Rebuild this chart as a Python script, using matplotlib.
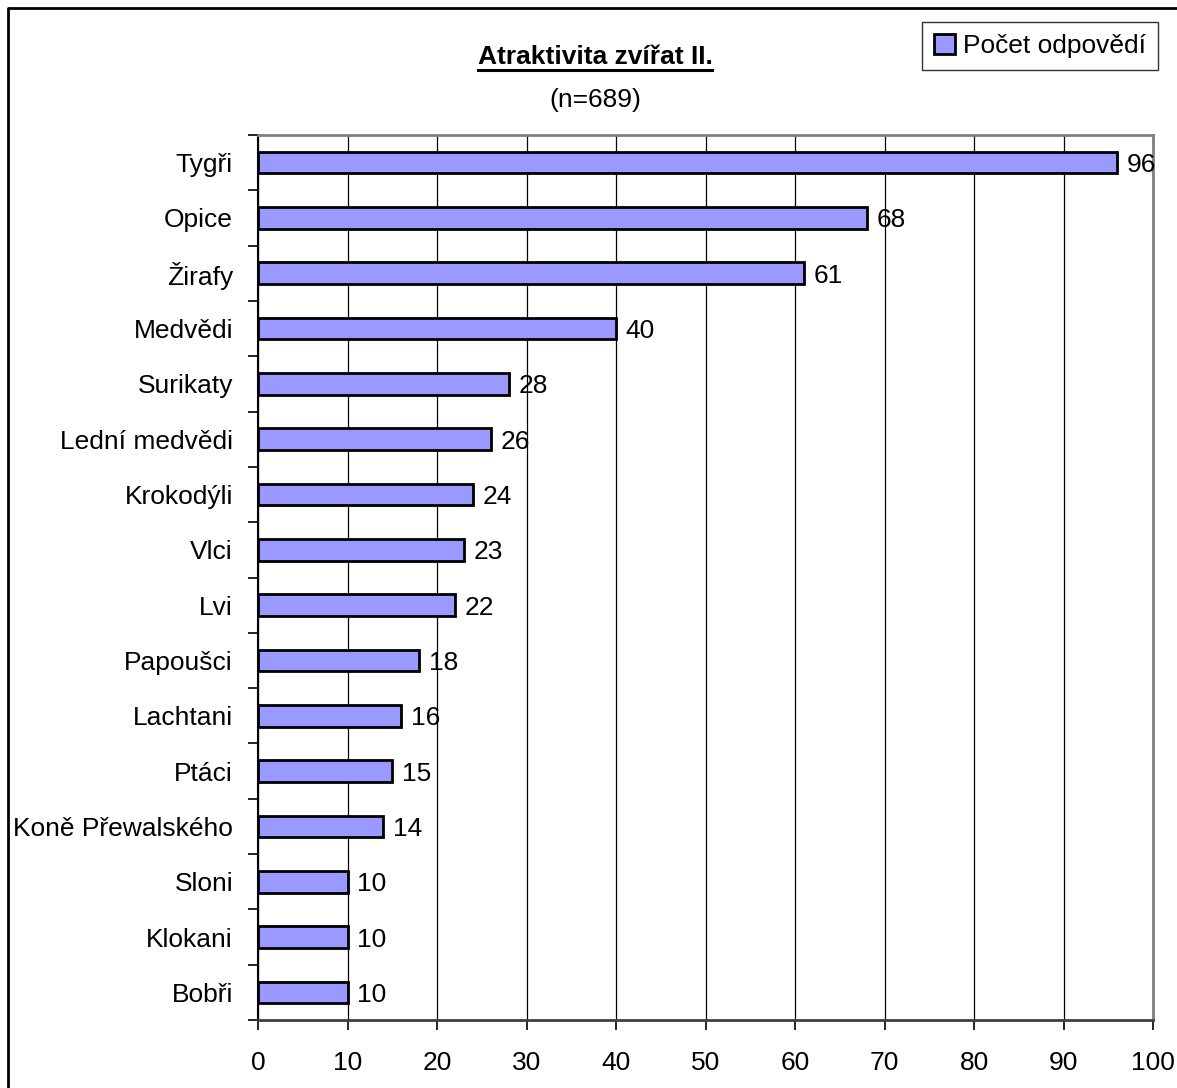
import matplotlib
matplotlib.use("Agg")
import matplotlib.pyplot as plt
from matplotlib.lines import Line2D
import numpy as np

plt.rcParams['font.family'] = ['Liberation Sans', 'DejaVu Sans']

categories = ["Tygři", "Opice", "Žirafy", "Medvědi", "Surikaty", "Lední medvědi",
              "Krokodýli", "Vlci", "Lvi", "Papoušci", "Lachtani", "Ptáci",
              "Koně Přewalského", "Sloni", "Klokani", "Bobři"]
values = [96, 68, 61, 40, 28, 26, 24, 23, 22, 18, 16, 15, 14, 10, 10, 10]
xticks = [0, 10, 20, 30, 40, 50, 60, 70, 80, 90, 100]
series_name = "Počet odpovědí"
title = "Atraktivita zvířat II."
subtitle = "(n=689)"

W, H = 1177, 1088
fig = plt.figure(figsize=(W / 100, H / 100), dpi=100)
ax = fig.add_axes([258 / W, 1 - 1020 / H, (1153 - 258) / W, (1020 - 135) / H])

y = np.arange(len(categories))
bars = ax.barh(y, values, height=0.39, color="#9999FF", edgecolor="black",
               linewidth=2, label=series_name, zorder=3)
for yi, v in zip(y, values):
    ax.annotate(str(v), (v, yi), xytext=(7, 0), textcoords="offset points",
                va="center_baseline", ha="left", fontsize=19, zorder=4)

ax.set_xlim(0, 100)
ax.set_ylim(len(categories) - 0.5, -0.5)
ax.set_xticks(xticks)
ax.set_xticklabels([str(t) for t in xticks], fontsize=19)
ax.set_yticks(y)
ax.set_yticklabels(categories, fontsize=19)
ax.set_yticks(np.arange(len(categories) + 1) - 0.5, minor=True)
ax.tick_params(axis="y", which="major", length=0, pad=18)
ax.tick_params(axis="y", which="minor", length=7, width=1.2, color="black")
ax.tick_params(axis="x", which="major", length=7, width=1.2, pad=15, color="black")
ax.grid(axis="x", color="black", linewidth=0.9, zorder=0)

for s in ["top", "right"]:
    ax.spines[s].set_color("#808080")
    ax.spines[s].set_linewidth(2)
ax.spines["left"].set_color("black")
ax.spines["left"].set_linewidth(1.5)
ax.spines["bottom"].set_color("#404040")
ax.spines["bottom"].set_linewidth(2)

# title and subtitle
t = fig.text(595 / W, 1 - 57 / H, title, ha="center", va="center",
             fontsize=19, fontweight="bold")
fig.text(595 / W, 1 - 100 / H, subtitle, ha="center", va="center", fontsize=19)
fig.canvas.draw()
bb = t.get_window_extent()
fig.add_artist(Line2D([bb.x0 / W, bb.x1 / W], [(bb.y0 - 1) / H, (bb.y0 - 1) / H],
                      transform=fig.transFigure, color="black", linewidth=2.2))

# legend
leg = fig.legend(handles=[bars], labels=[series_name], loc="upper right",
                 bbox_to_anchor=(1158 / W, 1 - 22 / H), fontsize=19,
                 frameon=True, fancybox=False, edgecolor="black",
                 handlelength=0.8, handleheight=0.8, handletextpad=0.3,
                 borderpad=0.45, borderaxespad=0)
leg.get_frame().set_linewidth(1)

# figure border (left and top)
fig.add_artist(Line2D([7.5 / W, 7.5 / W, 1.0], [0.0, 1 - 7.5 / H, 1 - 7.5 / H],
                      transform=fig.transFigure, color="black", linewidth=2))

fig.savefig("out.png", dpi=100)
